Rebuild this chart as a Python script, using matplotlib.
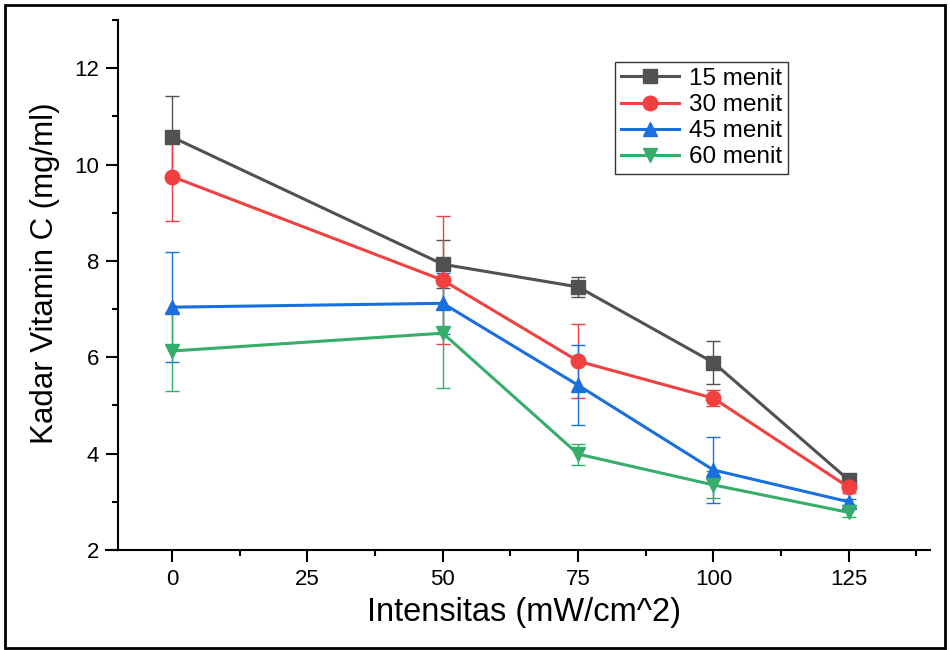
import matplotlib.pyplot as plt
from matplotlib.lines import Line2D
from matplotlib.patches import Rectangle
from matplotlib.ticker import MultipleLocator

plt.rcParams['font.family'] = ['Liberation Sans', 'DejaVu Sans']

# Kadar vitamin C pada tiap intensitas dan lama penyinaran
intensitas = [0, 50, 75, 100, 125]
labels = ['15 menit', '30 menit', '45 menit', '60 menit']
kadar_15 = [10.57, 7.93, 7.46, 5.89, 3.45]
kadar_30 = [9.75, 7.60, 5.92, 5.15, 3.30]
kadar_45 = [7.04, 7.12, 5.42, 3.66, 3.00]
kadar_60 = [6.13, 6.50, 3.99, 3.35, 2.78]
sd_15 = [0.85, 0.50, 0.20, 0.45, 0.06]
sd_30 = [0.93, 1.33, 0.77, 0.17, 0.12]
sd_45 = [1.14, 0.63, 0.83, 0.68, 0.06]
sd_60 = [0.82, 1.14, 0.22, 0.28, 0.10]

colors = ['#515151', '#F14040', '#1A6FDF', '#37AD6B']
markers = ['s', 'o', '^', 'v']

fig = plt.figure(figsize=(9.5, 6.5), dpi=100)
ax = fig.add_axes([118 / 950, 1 - 550 / 650, (930 - 118) / 950, (550 - 20) / 650])

series = [(kadar_15, sd_15), (kadar_30, sd_30), (kadar_45, sd_45), (kadar_60, sd_60)]
handles = []
for (y, err), lab, c, m in zip(series, labels, colors, markers):
    eb = ax.errorbar(intensitas, y, yerr=err, color=c, marker=m, markersize=10.5,
                     linewidth=2.2, elinewidth=1, capsize=5, capthick=1, label=lab)
    handles.append(eb.lines[0])

ax.set_xlim(-10, 140)
ax.set_ylim(2, 13)
ax.set_xticks([0, 25, 50, 75, 100, 125])
ax.set_yticks([2, 4, 6, 8, 10, 12])
ax.xaxis.set_minor_locator(MultipleLocator(12.5))
ax.yaxis.set_minor_locator(MultipleLocator(1))
ax.tick_params(which='major', length=8.5, width=1.5, labelsize=16, direction='out', pad=5)
ax.tick_params(which='minor', length=4, width=1.5, direction='out')

for s in ['top', 'right']:
    ax.spines[s].set_visible(False)
for s in ['left', 'bottom']:
    ax.spines[s].set_linewidth(1.5)
# sumbu x sedikit melewati sumbu y
ax.add_line(Line2D([-12 / 812, 0], [0, 0], transform=ax.transAxes,
                   color='black', linewidth=1.5, clip_on=False))

ax.set_xlabel('Intensitas (mW/cm^2)', fontsize=23.5, labelpad=5)
ax.set_ylabel('Kadar Vitamin C (mg/ml)', fontsize=22.5)
ax.yaxis.set_label_coords(-0.071, 0.523)

leg = ax.legend(handles, labels, loc='upper left', bbox_to_anchor=(0.612, 0.921),
                borderaxespad=0, fontsize=17.5, frameon=True, fancybox=False,
                edgecolor='black', handlelength=2.4, labelspacing=0.17,
                borderpad=0.25, handletextpad=0.4)
leg.get_frame().set_linewidth(1)

# bingkai luar gambar
fig.patches.append(Rectangle((5 / 950, 2 / 650), 940 / 950, 643 / 650,
                             transform=fig.transFigure, fill=False,
                             edgecolor='black', linewidth=2))

fig.savefig('out.png', dpi=100)
